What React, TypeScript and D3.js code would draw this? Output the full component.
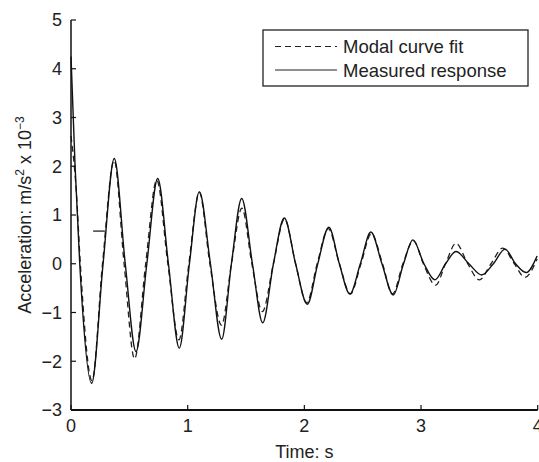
import React from "react";
import * as d3 from "d3";

const xTicks = [0, 1, 2, 3, 4];
const yTicks = [-3, -2, -1, 0, 1, 2, 3, 4, 5];

const measuredT = [0.0, 0.035, 0.075, 0.177, 0.275, 0.371, 0.465, 0.557, 0.65, 0.743, 0.835, 0.928, 1.015, 1.1, 1.195, 1.291, 1.375, 1.463, 1.555, 1.643, 1.735, 1.828, 1.925, 2.025, 2.115, 2.21, 2.3, 2.39, 2.48, 2.57, 2.665, 2.762, 2.85, 2.93, 3.025, 3.12, 3.21, 3.3, 3.41, 3.52, 3.62, 3.72, 3.81, 3.9, 3.995];
const measuredV = [4.25, 2.0, 0, -2.45, 0, 2.16, 0, -1.8, 0, 1.75, 0, -1.73, 0, 1.48, 0, -1.55, 0, 1.34, 0, -1.21, 0, 0.94, 0, -0.83, 0, 0.75, 0, -0.62, 0, 0.65, 0, -0.64, 0, 0.49, 0, -0.33, 0, 0.25, 0, -0.23, 0, 0.3, 0, -0.18, 0.16];

const fitT = [0.0, 0.045, 0.08, 0.18, 0.27, 0.37, 0.455, 0.545, 0.64, 0.735, 0.83, 0.925, 1.01, 1.1, 1.19, 1.29, 1.375, 1.465, 1.55, 1.64, 1.735, 1.83, 1.925, 2.02, 2.11, 2.205, 2.3, 2.395, 2.485, 2.575, 2.67, 2.755, 2.845, 2.935, 3.02, 3.125, 3.21, 3.3, 3.4, 3.5, 3.6, 3.7, 3.8, 3.89, 3.995];
const fitV = [2.62, 1.5, 0, -2.4, 0, 2.12, 0, -1.95, 0, 1.72, 0, -1.56, 0, 1.46, 0, -1.26, 0, 1.14, 0, -0.98, 0, 0.92, 0, -0.8, 0, 0.72, 0, -0.62, 0, 0.62, 0, -0.62, 0, 0.47, 0, -0.44, 0, 0.42, 0, -0.33, 0, 0.32, 0, -0.28, 0.1];

const strayT = [0.19, 0.29];
const strayV = [0.67, 0.67];

const legendLabels = ["Modal curve fit", "Measured response"];

const W = 539;
const H = 462;
const M = { left: 71, right: 537.7, top: 20, bottom: 410 };
const FONT = "'Liberation Sans', Arial, Helvetica, sans-serif";

export default function App() {
  const x = d3.scaleLinear().domain([0, 4]).range([M.left, M.right]);
  const y = d3.scaleLinear().domain([-3, 5]).range([M.bottom, M.top]);
  const line = d3
    .line<[number, number]>()
    .x((d) => x(d[0]))
    .y((d) => y(d[1]))
    .curve(d3.curveMonotoneX);
  const measured = measuredT.map((t, i) => [t, measuredV[i]] as [number, number]);
  const fit = fitT.map((t, i) => [t, fitV[i]] as [number, number]);
  const stray = strayT.map((t, i) => [t, strayV[i]] as [number, number]);
  const straight = d3.line<[number, number]>().x((d) => x(d[0])).y((d) => y(d[1]));

  return (
    <svg width={W} height={H} style={{ position: "absolute", left: 0, top: 0, background: "#fff" }} fontFamily={FONT}>
      <rect width={W} height={H} fill="#fff" />
      <path d={line(fit) || ""} fill="none" stroke="#222" strokeWidth={1.3} strokeDasharray="6,4" />
      <path d={line(measured) || ""} fill="none" stroke="#111" strokeWidth={1.4} />
      <path d={straight(stray) || ""} fill="none" stroke="#222" strokeWidth={1.3} />
      {/* axes */}
      <line x1={M.left} x2={M.left} y1={M.top} y2={M.bottom} stroke="#111" strokeWidth={1.5} />
      <line x1={M.left} x2={M.right} y1={M.bottom} y2={M.bottom} stroke="#111" strokeWidth={1.8} />
      {yTicks.map((v) => (
        <g key={"y" + v}>
          <line x1={M.left} x2={M.left + 5} y1={y(v)} y2={y(v)} stroke="#111" strokeWidth={1.2} />
          <text x={M.left - 9} y={y(v)} dy="0.36em" textAnchor="end" fontSize={18} fill="#222">
            {v < 0 ? "\u2212" + Math.abs(v) : v}
          </text>
        </g>
      ))}
      {xTicks.map((t) => (
        <g key={"x" + t}>
          <line x1={x(t)} x2={x(t)} y1={M.bottom} y2={M.bottom - 5} stroke="#111" strokeWidth={1.2} />
          <text x={x(t)} y={432} textAnchor="middle" fontSize={18} fill="#222">
            {t}
          </text>
        </g>
      ))}
      <text x={(M.left + M.right) / 2} y={458} textAnchor="middle" fontSize={18} fill="#222">
        Time: s
      </text>
      <text transform={`translate(31,${(M.top + M.bottom) / 2}) rotate(-90)`} textAnchor="middle" fontSize={18} fill="#222">
        Acceleration: m/s
        <tspan fontSize={12} dy={-7}>2</tspan>
        <tspan dy={7}> x 10</tspan>
        <tspan fontSize={12} dy={-7}>{"\u22123"}</tspan>
      </text>
      {/* legend */}
      <rect x={263} y={30} width={265} height={56} fill="#fff" stroke="#222" strokeWidth={1.3} />
      <line x1={275} x2={337} y1={46.5} y2={46.5} stroke="#222" strokeWidth={1.2} strokeDasharray="6,4" />
      <line x1={275} x2={337} y1={70} y2={70} stroke="#222" strokeWidth={1.2} />
      <text x={343} y={53} fontSize={18.5} fill="#222">{legendLabels[0]}</text>
      <text x={343} y={76.5} fontSize={18.5} fill="#222">{legendLabels[1]}</text>
    </svg>
  );
}
